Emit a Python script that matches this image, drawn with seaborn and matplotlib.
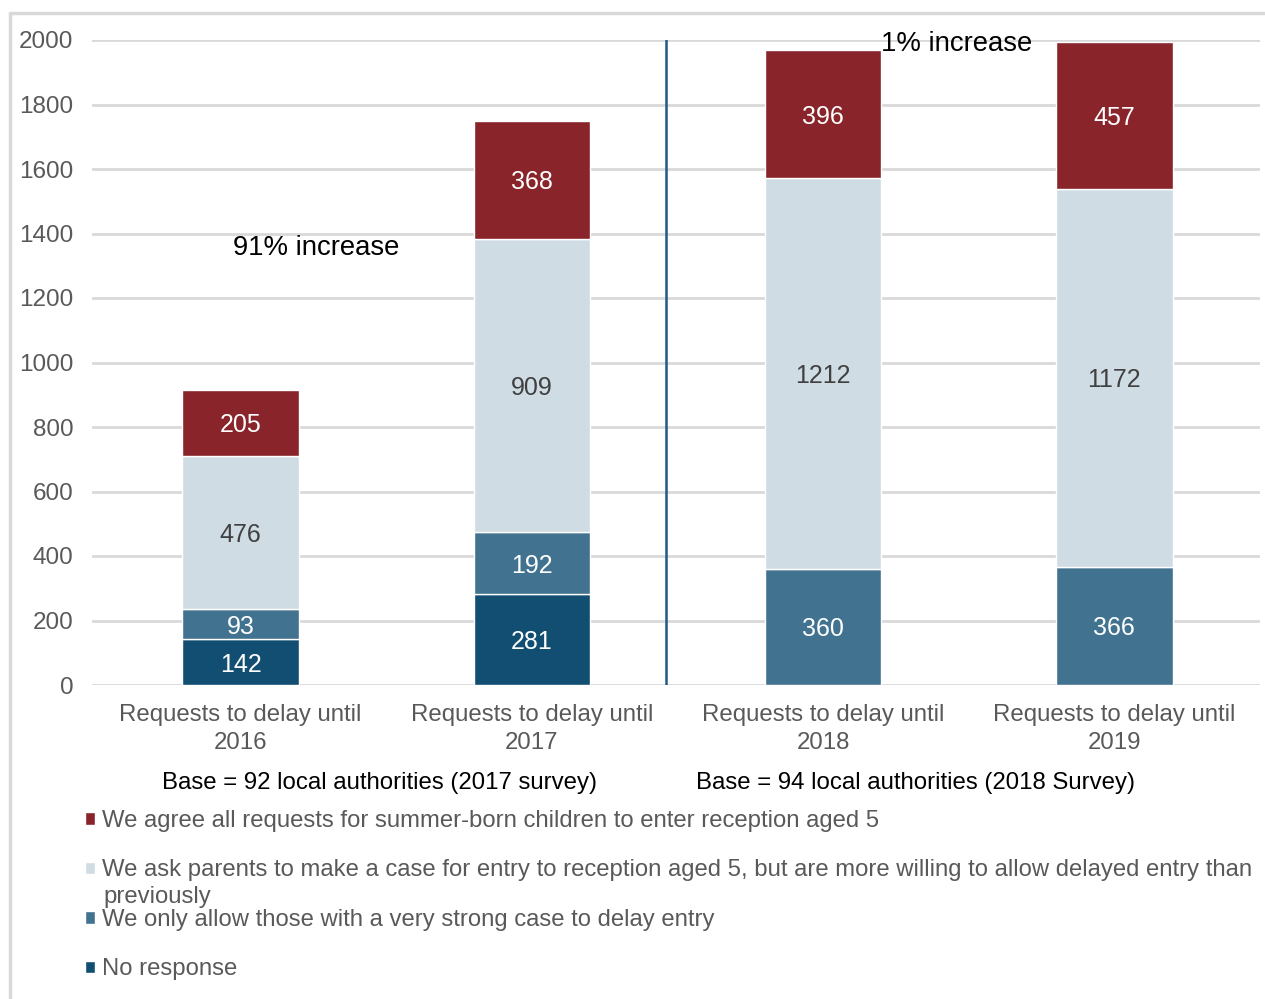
import matplotlib
matplotlib.use("Agg")
import matplotlib.pyplot as plt
import seaborn as sns
import numpy as np
import pandas as pd
from matplotlib.lines import Line2D
from matplotlib.patches import Patch

sns.set_theme(style="white")
plt.rcParams['font.family'] = ['Liberation Sans', 'DejaVu Sans']

categories = ["Requests to delay until\n2016", "Requests to delay until\n2017",
              "Requests to delay until\n2018", "Requests to delay until\n2019"]
series_names = [
    "No response",
    "We only allow those with a very strong case to delay entry",
    "We ask parents to make a case for entry to reception aged 5, but are more willing to allow delayed entry than previously",
    "We agree all requests for summer-born children to enter reception aged 5",
]
no_response = [142, 281, 0, 0]
strong_case = [93, 192, 360, 366]
ask_parents = [476, 909, 1212, 1172]
agree_all = [205, 368, 396, 457]
series_values = [no_response, strong_case, ask_parents, agree_all]
colors = ["#124E72", "#41728F", "#D0DCE4", "#88242A"]
label_colors = ["white", "white", "#404040", "white"]
yticks = [0, 200, 400, 600, 800, 1000, 1200, 1400, 1600, 1800, 2000]

fig = plt.figure(figsize=(12.65, 9.99), dpi=100)
ax = fig.add_axes([92/1265, 1-685/999, (1260-92)/1265, (685-40)/999])

bottom = np.zeros(len(categories))
for vals, col, lc in zip(series_values, colors, label_colors):
    df = pd.DataFrame({"cat": categories, "val": vals})
    sns.barplot(data=df, x="cat", y="val", order=categories, color=col,
                bottom=bottom, width=0.4, ax=ax, saturation=1, zorder=3)
    for i, v in enumerate(vals):
        if v > 0:
            ax.text(i, bottom[i] + v/2, str(v), ha="center", va="center_baseline",
                    color=lc, fontsize=18, zorder=5)
    bottom = bottom + np.array(vals)

ax.set_xlim(-0.51, 3.5)
ax.set_ylim(0, 2000)
ax.set_yticks(yticks)
ax.set_yticklabels([str(t) for t in yticks])
ax.grid(axis="y", color="#D9D9D9", linewidth=2, zorder=0)
ax.set_axisbelow(True)
for s in ax.spines.values():
    s.set_visible(False)
ax.tick_params(axis="y", length=0, pad=13.5, labelsize=17.5, labelcolor="#595959")
ax.tick_params(axis="x", length=0, pad=14, labelsize=17.3, labelcolor="#595959")
ax.set_xlabel("")
ax.set_ylabel("")
for lbl in ax.get_xticklabels():
    lbl.set_linespacing(1.3)

# divider line between surveys
ax.plot([1.46, 1.46], [0, 2000], color="#1F5A80", linewidth=1.8, zorder=4)

ax.text(0.26, 1364, "91% increase", ha="center", va="center_baseline", fontsize=19.8, color="black")
ax.text(2.457, 1997, "1% increase", ha="center", va="center_baseline", fontsize=19.8, color="black", zorder=6)

fig.text(380/1265, 1-781/999, "Base = 92 local authorities (2017 survey)", ha="center", va="center_baseline",
         fontsize=17.3, color="black")
fig.text(916/1265, 1-781/999, "Base = 94 local authorities (2018 Survey)", ha="center", va="center_baseline",
         fontsize=17.3, color="black")

# legend (top entry first)
handles = [Patch(facecolor=colors[i]) for i in [3, 2, 1, 0]]
labels = [series_names[3],
          "We ask parents to make a case for entry to reception aged 5, but are more willing to allow delayed entry than",
          series_names[1], series_names[0]]
leg = fig.legend(handles, labels, loc="upper left", bbox_to_anchor=(85/1265, 1-810/999),
                 frameon=False, fontsize=17.2, handlelength=0.42, handleheight=0.42,
                 handletextpad=0.28, labelspacing=1.15, borderaxespad=0, borderpad=0)
for t in leg.get_texts():
    t.set_color("#595959")
fig.text(103/1265, 1-895/999, "previously", ha="left", va="center_baseline", fontsize=17.2, color="#595959")

# figure border (top and left)
fig.add_artist(Line2D([10/1265, 1264/1265], [1-13/999, 1-13/999], color="#D9D9D9", linewidth=2.5))
fig.add_artist(Line2D([10/1265, 10/1265], [0, 1-13/999], color="#D9D9D9", linewidth=2.5))

fig.savefig("out.png", dpi=100)
